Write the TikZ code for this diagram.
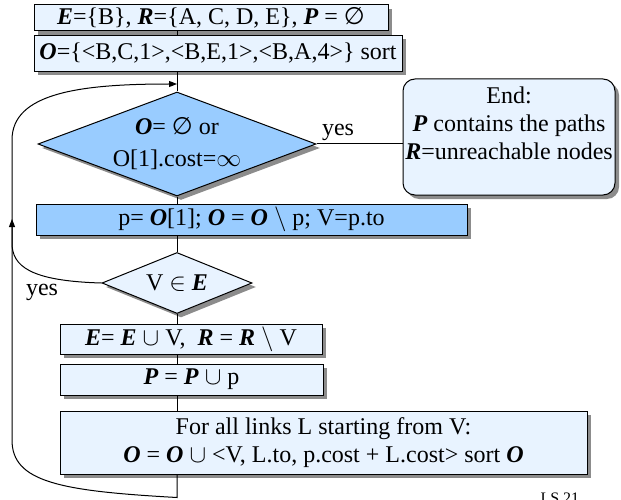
\documentclass[tikz,border=0pt]{standalone}
\usepackage{fontspec}
\setmainfont{Liberation Serif}
\newfontfamily\symfont{DejaVu Sans}
\usetikzlibrary{shapes.geometric,shadows,arrows.meta}
\definecolor{lightfill}{RGB}{232,243,255}
\definecolor{darkfill}{RGB}{153,204,255}
\newcommand{\bi}[1]{\textbf{\textit{#1}}}
\newcommand{\emptyglyph}{{\symfont ∅}}
\begin{document}
\begin{tikzpicture}[x=1pt,y=-1pt,
  font=\fontsize{24}{28}\selectfont,
  shad/.style={drop shadow={shadow xshift=4pt,shadow yshift=-4pt,fill=black!45,opacity=1}},
  box/.style={draw=black,line width=1pt,fill=lightfill,shad,inner sep=0pt,align=center},
  dbox/.style={box,fill=darkfill},
  dia/.style={shape=diamond,draw=black,line width=1pt,inner sep=0pt,shad,align=center},
  conn/.style={draw=black,line width=1pt},
  arr/.style={conn,-{Triangle[length=8pt,width=6pt]}}]
\useasboundingbox (0,0) rectangle (621,500);

\node[box,minimum width=354pt,minimum height=26pt] (b1) at (211,18)
  {\bi{E}=\{B\}, \bi{R}=\{A, C, D, E\}, \bi{P} = \emptyglyph};
\node[box,minimum width=368pt,minimum height=36pt] (b2) at (218,53.5)
  {\bi{O}=\{<B,C,1>,<B,E,1>,<B,A,4>\} sort};
\node[dia,fill=darkfill,aspect=2.67,minimum width=278pt,minimum height=104pt,
      font=\fontsize{24}{32}\selectfont] (d1) at (177,144)
  {\bi{O}= \emptyglyph{} or\\O[1].cost=$\infty$};
\node[box,rounded corners=12pt,minimum width=212pt,minimum height=116pt] (endb) at (509,137)
  {End:\\\bi{P} contains the paths\\\bi{R}=unreachable nodes\\\mbox{}};
\node[dbox,minimum width=431pt,minimum height=31pt] (pb) at (251.5,219.5)
  {p= \bi{O}[1]; \bi{O} = \bi{O} $\setminus$ p; V=p.to};
\node[dia,fill=lightfill,aspect=2.46,minimum width=150pt,minimum height=61pt] (d2) at (177,283)
  {V $\in$ \bi{E}};
\node[box,minimum width=262pt,minimum height=30pt] (eb) at (191,339)
  {\bi{E}= \bi{E} $\cup$ V,\ \ \bi{R} = \bi{R} $\setminus$ V};
\node[box,minimum width=263pt,minimum height=31pt] (pp) at (191.5,379.5)
  {\bi{P} = \bi{P} $\cup$ p};
\node[box,minimum width=527pt,minimum height=63pt] (fb) at (323.5,442.5)
  {For all links L starting from V:\\\bi{O} = \bi{O} $\cup$ <V, L.to, p.cost + L.cost> sort \bi{O}};

\node (yes1) at (338,132) {yes};
\node (yes2) at (42,292) {yes};
\node[anchor=north west,font=\fontsize{16}{18}\selectfont] (ls) at (537,489) {LS 21};

\coordinate (topin) at (177,84);
\coordinate (lb) at (177,497.5);
\coordinate (upin) at (12,219);

\draw[conn] (b1.south -| d1.north) -- (b2.north -| d1.north);
\draw[conn] (b2.south -| d1.north) -- (d1.north);
\draw[conn] (d1.south) -- (d1.south |- pb.north);
\draw[conn] (pb.south -| d2.north) -- (d2.north);
\draw[conn] (d2.south) -- (d2.south |- eb.north);
\draw[conn] (eb.south -| d2.south) -- (pp.north -| d2.south);
\draw[conn] (pp.south -| d2.south) -- (fb.north -| d2.south);
\draw[conn] (d1.east) -- (endb.west |- d1.east);

\draw[arr] (fb.south -| d2.south) -- (lb) .. controls (60,491) and (12,482) .. (12,440)
  -- (12,140) .. controls (12,93) and (80,84) .. (topin);
\draw[arr] (d2.west) .. controls (30,281) and (12,266) .. (12,243) -- (upin);
\end{tikzpicture}
\end{document}
